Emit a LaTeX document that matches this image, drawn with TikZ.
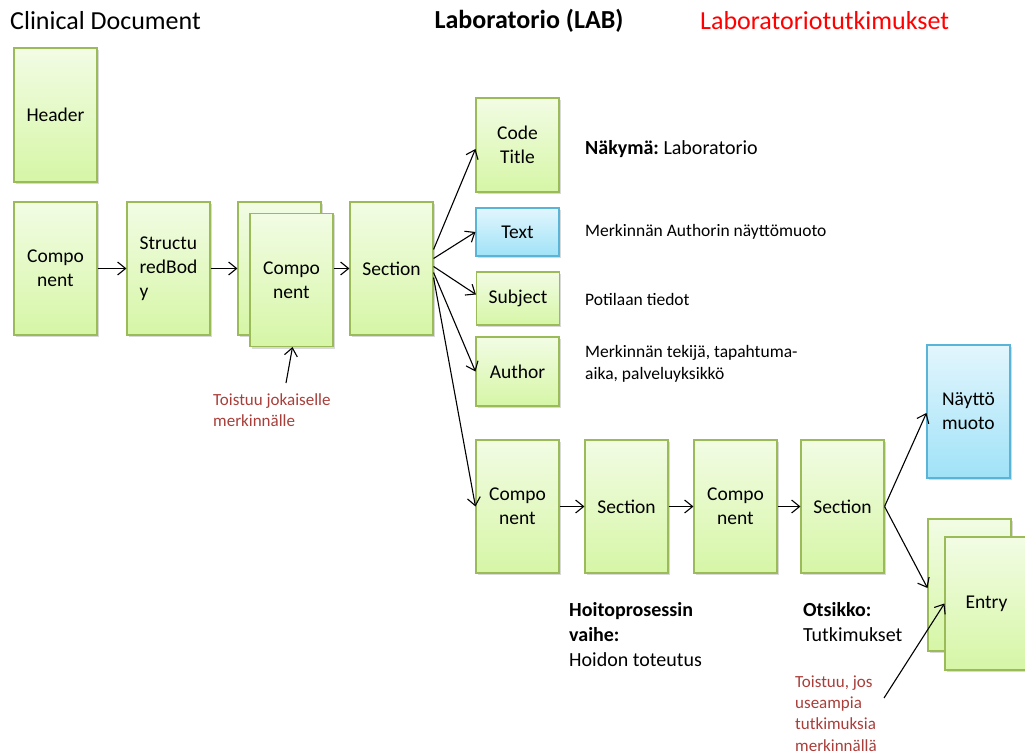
\documentclass[tikz,border=0pt]{standalone}
\usepackage{fontspec}
\setmainfont{Carlito}
\frenchspacing
\usetikzlibrary{arrows.meta,shadows}
\definecolor{gborder}{RGB}{155,187,89}
\definecolor{gtop}{RGB}{242,252,228}
\definecolor{gbot}{RGB}{214,246,166}
\definecolor{bborder}{RGB}{90,180,215}
\definecolor{btop}{RGB}{226,246,253}
\definecolor{bbot}{RGB}{160,226,248}
\definecolor{notered}{RGB}{168,62,58}
\tikzset{
  box/.style={rectangle, draw=gborder, line width=1.1pt, top color=gtop, bottom color=gbot,
    minimum width=83pt, minimum height=133pt, inner sep=2pt, align=center,
    font=\fontsize{19.5}{24}\selectfont,
    drop shadow={shadow xshift=1.5pt, shadow yshift=-2pt, opacity=0.3, fill=black!50}},
  bluebox/.style={box, draw=bborder, top color=btop, bottom color=bbot},
  conn/.style={-{Straight Barb[length=8pt,width=13pt,line width=1.1pt]}, line width=1.1pt},
  note/.style={anchor=west, align=left, inner sep=0pt, font=\fontsize{17.5}{22}\selectfont},
  bignote/.style={anchor=west, align=left, inner sep=0pt, font=\fontsize{20}{25}\selectfont},
  rednote/.style={anchor=west, align=left, inner sep=0pt, text=notered, font=\fontsize{17}{21.3}\selectfont},
  title/.style={anchor=west, inner sep=0pt, font=\fontsize{26}{30}\selectfont}
}
\begin{document}
\begin{tikzpicture}[x=1pt,y=-1pt]
\useasboundingbox (0,0) rectangle (1025,754);

% titles
\node[title] (tclin) at (10,21) {Clinical Document};
\node[title, anchor=center, font=\fontsize{26}{30}\selectfont\bfseries] (tlab) at (529,21) {Laboratorio (LAB)};
\node[title, text=red] (tlabt) at (700,21) {Laboratoriotutkimukset};

% document level
\node[box, minimum height=134pt] (hdr) at (55.5,115) {Header};
\node[box] (comp1) at (55.5,268.5) {Compo\\nent};
\node[box, align=left] (sbody) at (168.5,268.5) {Structu\\redBod\\y};
\node[box] (compB) at (279.5,268.5) {};
\node[box] (compF) at (291.5,280) {Compo\\nent};
\node[box] (sec1) at (391.5,268.5) {Section};

% section children
\node[box, minimum height=94pt] (code) at (517.5,145) {Code\\Title};
\node[bluebox, minimum height=48pt] (text) at (517.5,232) {Text};
\node[box, minimum height=53pt] (subj) at (518,298.5) {Subject};
\node[box, minimum height=69pt] (auth) at (517.5,371.5) {Author};

% nested components and sections
\node[box] (comp2) at (517.5,506.5) {Compo\\nent};
\node[box] (sec2) at (626.5,506.5) {Section};
\node[box] (comp3) at (735.5,506.5) {Compo\\nent};
\node[box] (sec3) at (842.5,506.5) {Section};
\node[bluebox, align=left] (disp) at (968.5,411.5) {Näyttö\\muoto};
\node[box, minimum height=132pt] (entB) at (969.5,585) {};
\node[box] (entF) at (986.5,603.5) {Entry};

% descriptions
\node[bignote] (dnak) at (585,149) {\textbf{Näkymä:} Laboratorio};
\node[note] (dtext) at (585,232) {Merkinnän Authorin näyttömuoto};
\node[note] (dsubj) at (585,299) {Potilaan tiedot};
\node[note] (dauth) at (585,364) {Merkinnän tekijä, tapahtuma-\\aika, palveluyksikkö};
\node[bignote] (dhoit) at (569,635) {\textbf{Hoitoprosessin}\\\textbf{vaihe:}\\Hoidon toteutus};
\node[bignote] (dots) at (803,622.5) {\textbf{Otsikko:}\\Tutkimukset};
\node[rednote] (rep1) at (213,410.5) {Toistuu jokaiselle\\merkinnälle};
\node[rednote] (rep2) at (795,713.5) {Toistuu, jos\\useampia\\tutkimuksia\\merkinnällä};

% connectors
\draw[conn] (comp1.east) -- (sbody.west);
\draw[conn] (sbody.east) -- (compB.west);
\draw[conn] (compF.east |- sec1.west) -- (sec1.west);
\draw[conn] ([yshift=19pt]sec1.east) -- ([yshift=-4pt]code.west);
\draw[conn] ([yshift=10pt]sec1.east) -- (text.west);
\draw[conn] ([yshift=2pt]sec1.east) -- ([yshift=4pt]subj.west);
\draw[conn] ([yshift=-4pt]sec1.east) -- (auth.west);
\draw[conn] ([yshift=-9pt]sec1.east) -- (comp2.west);
\draw[conn] (comp2.east) -- (sec2.west);
\draw[conn] (sec2.east) -- (comp3.west);
\draw[conn] (comp3.east) -- (sec3.west);
\draw[conn] (sec3.east) -- ([yshift=-1.5pt]disp.west);
\draw[conn] (sec3.east) -- ([yshift=-3pt]entB.west);
\coordinate (rep1tail) at (286,383);
\draw[conn] (rep1tail) -- ([xshift=1pt]compF.south);
\coordinate (rep2tail) at (884,698);
\draw[conn] (rep2tail) -- (entF.west);
\end{tikzpicture}
\end{document}
